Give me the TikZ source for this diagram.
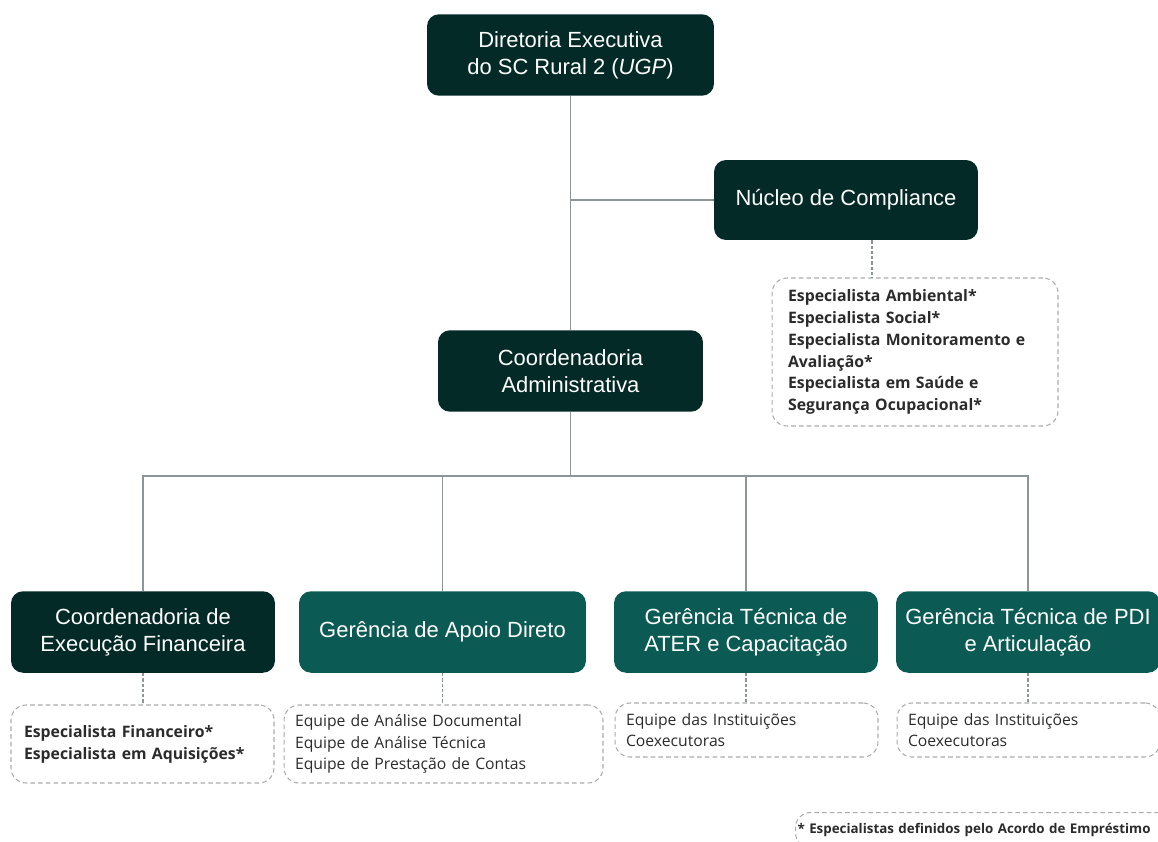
\documentclass[tikz,border=0pt]{standalone}
\usepackage{fontspec}
\setmainfont{Liberation Sans}
\newfontfamily\listfont{Open Sans}
\usetikzlibrary{positioning}
\definecolor{unitdark}{HTML}{032A27}
\definecolor{unitteal}{HTML}{0B5B54}
\definecolor{linkgray}{HTML}{8C9698}
\definecolor{boxgray}{HTML}{A9ACAC}
\definecolor{listtext}{HTML}{2B2B2B}

\begin{document}
\begin{tikzpicture}[
			x = 0.02cm, y = -0.02cm,
			unit/.style = {rounded corners = 0.24cm, text = white, align = center,
				inner sep = 0pt, minimum height = 1.63cm,
				font = \fontsize{12.5}{15.4}\selectfont},
			dark/.style = {unit, fill = unitdark},
			teal/.style = {unit, fill = unitteal},
			team/.style = {draw = boxgray, dash pattern = on 2.6pt off 1.8pt, line width = 0.6pt,
				rounded corners = 0.3cm, align = left, text = listtext,
				inner xsep = 0.22cm, inner ysep = 0pt,
				font = \listfont\fontsize{8.95}{12.4}\selectfont},
			spec/.style = {font = \listfont\bfseries\fontsize{9}{12.4}\selectfont},
			link/.style = {draw = linkgray, line width = 0.75pt},
			dots/.style = {draw = linkgray, line width = 0.6pt, dash pattern = on 1.8pt off 1.2pt}
			]

			\useasboundingbox (0,0) rectangle (1158,841);

			% unidades
			\node[dark, minimum width = 5.74cm] (dir) at (570.5,55) {Diretoria Executiva\\do SC Rural 2 (\textit{UGP})};
			\node[dark, minimum width = 5.28cm, minimum height = 1.6cm] (nuc) at (846,200) {N\'ucleo de Compliance};
			\node[dark, minimum width = 5.3cm] (adm) at (570.5,371) {Coordenadoria\\Administrativa};

			\node[dark, minimum width = 5.28cm] (cef) at (143,632) {Coordenadoria de\\Execu\c{c}\~ao Financeira};
			\node[teal, minimum width = 5.74cm] (gad) at (442.5,632) {Ger\^encia de Apoio Direto};
			\node[teal, minimum width = 5.28cm] (gta) at (746,632) {Ger\^encia T\'ecnica de\\ATER e Capacita\c{c}\~ao};
			\node[teal, minimum width = 5.28cm] (gtp) at (1028,632) {Ger\^encia T\'ecnica de PDI\\e Articula\c{c}\~ao};

			% equipes
			\node[team, spec, inner xsep = 0.32cm, text width = 5.08cm, minimum height = 2.96cm] (nucl) at (915,352)
				{Especialista Ambiental*\\Especialista Social*\\Especialista Monitoramento e\\Avalia\c{c}\~ao*\\Especialista em Sa\'ude e\\Seguran\c{c}a Ocupacional*};
			\node[team, spec, inner xsep = 0.26cm, text width = 4.74cm, minimum height = 1.56cm] (cefl) at (142.5,744)
				{Especialista Financeiro*\\Especialista em Aquisi\c{c}\~oes*};
			\node[team, text width = 5.94cm, minimum height = 1.56cm] (gadl) at (443.5,744)
				{Equipe de An\'alise Documental\\Equipe de An\'alise T\'ecnica\\Equipe de Presta\c{c}\~ao de Contas};
			\node[team, text width = 4.82cm, minimum height = 1.08cm] (gtal) at (746.5,730)
				{Equipe das Institui\c{c}\~oes\\Coexecutoras};
			\node[team, text width = 4.82cm, minimum height = 1.08cm] (gtpl) at (1028.5,730)
				{Equipe das Institui\c{c}\~oes\\Coexecutoras};

			\node[team, spec, font = \listfont\bfseries\fontsize{7.6}{10}\selectfont, anchor = north west,
				inner xsep = 0.04cm, inner ysep = 0.22cm, text width = 7.8cm] (nota) at (795,812)
				{* Especialistas definidos pelo Acordo de Empr\'estimo};

			% ligacoes
			\draw[link] (dir) -- (adm);
			\draw[link] (dir.south |- nuc.west) -- (nuc.west);
			\draw[link] (adm.south) -- ++(0,64) coordinate (bus);
			\foreach \n in {cef,gad,gta,gtp}
				\draw[link] (bus) -| (\n.north);

			\draw[dots] ([xshift = 0.52cm]nuc.south) -- ([xshift = 0.52cm]nuc.south |- nucl.north);
			\foreach \n in {cef,gad,gta,gtp}
				\draw[dots] (\n.south) -- (\n.south |- \n l.north);

		\end{tikzpicture}
\end{document}
